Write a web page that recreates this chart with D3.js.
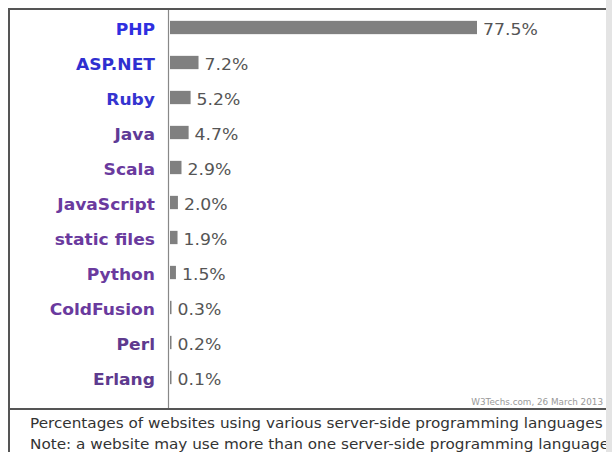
<!DOCTYPE html>
<html><head><meta charset="utf-8">
<script src="https://cdn.jsdelivr.net/npm/d3@7"></script>
<style>body{margin:0;background:#fff}svg{display:block}</style>
</head><body>
<svg id="c" width="612" height="452"></svg>
<script>
const languages = ["PHP","ASP.NET","Ruby","Java","Scala","JavaScript","static files","Python","ColdFusion","Perl","Erlang"];
const shares = [77.5,7.2,5.2,4.7,2.9,2.0,1.9,1.5,0.3,0.2,0.1];
const labelColors = ["#2f2fe0","#2f2fd0","#3434d0","#5e3a96","#6a3a9e","#6a3a9e","#6a3a9e","#6a3a9e","#6a3a9e","#5e3a8e","#5e3a8e"];
const captionLines = ["Percentages of websites using various server-side programming languages","Note: a website may use more than one server-side programming language"];
const sourceText = "W3Techs.com, 26 March 2013";

const svg = d3.select("#c");
const font = "'DejaVu Sans', Verdana, sans-serif";

const x = d3.scaleLinear().domain([0,77.5]).range([170,477]);
const y = d3.scaleBand().domain(languages).range([10,395]).paddingInner(0.62).paddingOuter(0.31);

// frame
svg.append("line").attr("x1",9).attr("x2",606).attr("y1",9).attr("y2",9).attr("stroke","#555").attr("stroke-width",2);
svg.append("line").attr("x1",9).attr("x2",9).attr("y1",8).attr("y2",452).attr("stroke","#555").attr("stroke-width",2);
svg.append("line").attr("x1",9).attr("x2",606).attr("y1",409).attr("y2",409).attr("stroke","#555").attr("stroke-width",2);

// axis line
svg.append("line").attr("x1",168.5).attr("x2",168.5).attr("y1",10).attr("y2",408).attr("stroke","#888").attr("stroke-width",1.2);

const rows = svg.append("g").selectAll("g").data(languages).join("g");
rows.append("rect")
  .attr("x",x(0))
  .attr("y",d=>y(d))
  .attr("width",(d,i)=>Math.max(1.5,x(shares[i])-x(0)))
  .attr("height",y.bandwidth())
  .attr("fill","#808080");
rows.append("text")
  .attr("transform",d=>`translate(155,${y(d)+y.bandwidth()/2+7}) scale(1.14,1)`)
  .attr("text-anchor","end")
  .attr("font-family",font).attr("font-weight","bold").attr("font-size",15)
  .attr("fill",(d,i)=>labelColors[i])
  .text(d=>d);
rows.append("text")
  .attr("transform",(d,i)=>`translate(${x(0)+Math.max(1.5,x(shares[i])-x(0))+6},${y(d)+y.bandwidth()/2+7.5}) scale(1.15,1)`)
  .attr("font-family",font).attr("font-size",15)
  .attr("fill","#555")
  .text((d,i)=>shares[i].toFixed(1)+"%");

svg.append("text").attr("x",603).attr("y",405).attr("text-anchor","end")
  .attr("font-family",font).attr("font-size",8.8).attr("fill","#999")
  .text(sourceText);

svg.append("g").selectAll("text").data(captionLines).join("text")
  .attr("transform",(d,i)=>`translate(30,${428+i*21}) scale(1.13,1)`)
  .attr("font-family",font).attr("font-size",13.5).attr("fill","#333")
  .text(d=>d);

// right edge band
svg.append("rect").attr("x",606).attr("y",0).attr("width",6).attr("height",452).attr("fill","#e4e4e4");
</script>
</body></html>
